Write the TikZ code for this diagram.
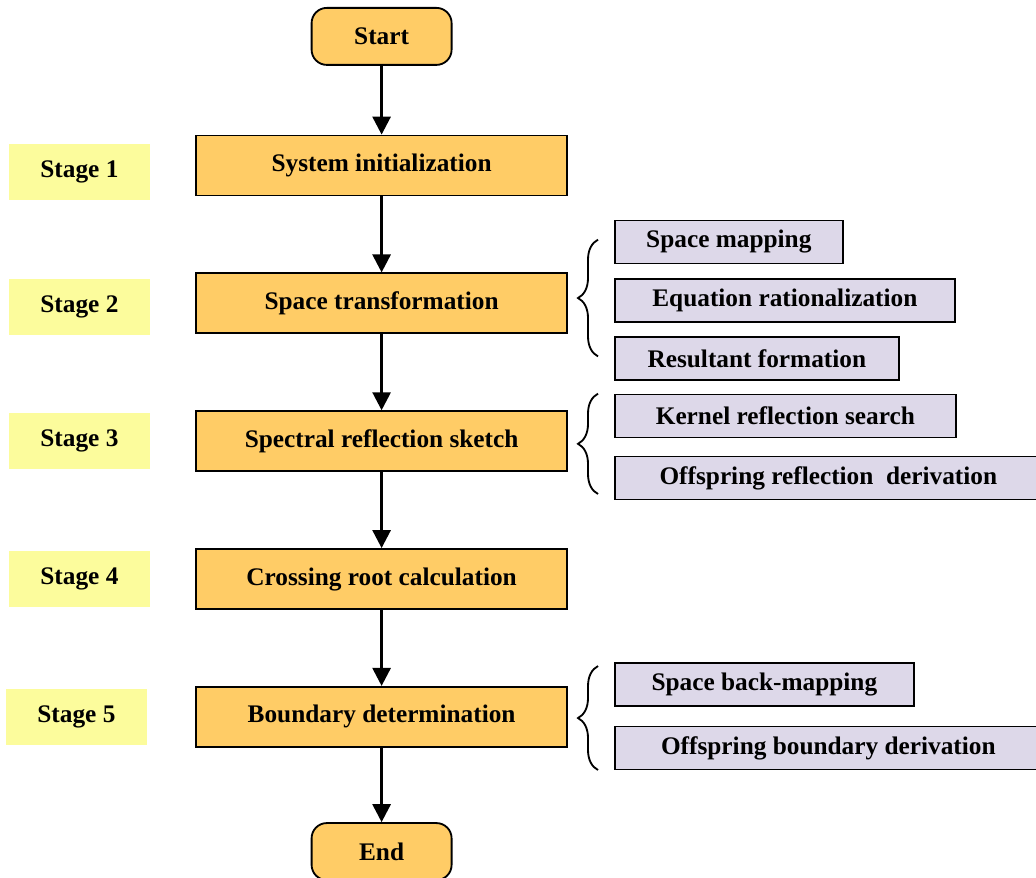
\documentclass[tikz,border=0pt]{standalone}
\usepackage{fontspec}
\setmainfont{Liberation Serif}
\usetikzlibrary{arrows.meta,positioning,decorations.pathreplacing}
\definecolor{boxorange}{HTML}{FFCC66}
\definecolor{stageyellow}{HTML}{FCFC9C}
\definecolor{sublilac}{HTML}{DDD8E9}

\begin{document}
\begin{tikzpicture}[node distance=1.9cm, >={Triangle[length=0.45cm,width=0.45cm]},
    font=\fontsize{18}{21}\selectfont\bfseries,
    terminal/.style={draw, line width=1.3pt, fill=boxorange, rounded corners=0.38cm,
        minimum width=3.5cm, minimum height=1.425cm},
    process/.style={draw, line width=1.3pt, fill=boxorange,
        minimum width=9.275cm, minimum height=1.5cm},
    stage/.style={fill=stageyellow, minimum width=3.525cm, minimum height=1.4cm},
    substep/.style={draw, line width=1.2pt, fill=sublilac, anchor=west,
        minimum height=1.075cm},
    flow/.style={->, line width=2pt},
    bracket/.style={decorate, decoration={brace, amplitude=0.5cm}, line width=1.3pt}]
    \useasboundingbox (0,0) rectangle (25.9,-21.95);

    \node [terminal] (start) at (9.54,-0.91) {Start};
    \node [process, below=1.72cm of start] (init) {System initialization};
    \node [process, below=of init] (transform) {Space transformation};
    \node [process, below=of transform] (sketch) {Spectral reflection sketch};
    \node [process, below=of sketch] (crossing) {Crossing root calculation};
    \node [process, below=of crossing] (boundary) {Boundary determination};
    \node [terminal, below=1.86cm of boundary] (end) {End};

    \node [stage, left=1.125cm of init, yshift=-0.15cm] (stage1) {Stage 1};
    \node [stage, left=1.125cm of transform, yshift=-0.1cm] (stage2) {Stage 2};
    \node [stage, left=1.125cm of sketch] (stage3) {Stage 3};
    \node [stage, left=1.125cm of crossing] (stage4) {Stage 4};
    \node [stage, left=1.2cm of boundary] (stage5) {Stage 5};

    \node [substep, minimum width=5.7cm] (mapping) at (15.35,-6.05) {Space mapping};
    \node [substep, minimum width=8.5cm] (ration) at (15.35,-7.51) {Equation rationalization};
    \node [substep, minimum width=7.1cm] (resultant) at (15.35,-8.96) {Resultant formation};
    \node [substep, minimum width=8.525cm] (kernel) at (15.35,-10.4) {Kernel reflection search};
    \node [substep, minimum width=10.675cm] (offrefl) at (15.35,-11.95) {Offspring reflection\ \ derivation};
    \node [substep, minimum width=7.475cm] (backmap) at (15.35,-17.11) {Space back-mapping};
    \node [substep, minimum width=10.675cm] (offbound) at (15.35,-18.7) {Offspring boundary derivation};

    \draw [flow] (start) -- (init);
    \draw [flow] (init) -- (transform);
    \draw [flow] (transform) -- (sketch);
    \draw [flow] (sketch) -- (crossing);
    \draw [flow] (crossing) -- (boundary);
    \draw [flow] (boundary) -- (end);

    % braces towards the sub-steps
    \draw [bracket] ([xshift=-0.4cm,yshift=0.05cm]resultant.west) -- ([xshift=-0.4cm,yshift=-0.5cm]mapping.north west);
    \draw [bracket] ([xshift=-0.4cm,yshift=-0.4cm]offrefl.west) -- ([xshift=-0.4cm]kernel.north west);
    \draw [bracket] ([xshift=-0.4cm,yshift=-0.55cm]offbound.west) -- ([xshift=-0.4cm,yshift=-0.1cm]backmap.north west);
\end{tikzpicture}
\end{document}
